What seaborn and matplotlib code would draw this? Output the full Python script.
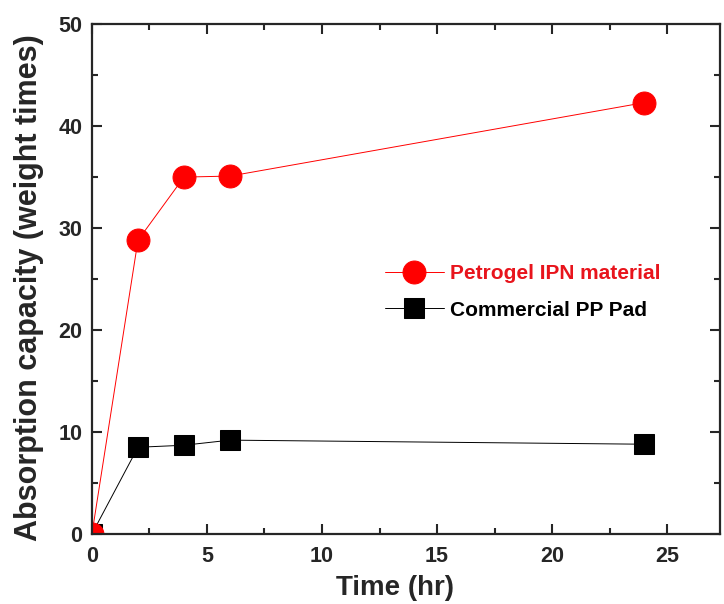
import matplotlib
matplotlib.use("Agg")
import matplotlib.pyplot as plt
import seaborn as sns
import pandas as pd
from matplotlib.ticker import MultipleLocator

time_hr = [0, 2, 4, 6, 24]
petrogel = [0, 28.8, 35.0, 35.1, 42.3]
pp_pad = [0, 8.5, 8.7, 9.2, 8.8]
labels = ["Petrogel IPN material", "Commercial PP Pad"]

sns.set_theme(style="ticks")
plt.rcParams['font.family'] = ['Liberation Sans', 'DejaVu Sans']
plt.rcParams['font.weight'] = 'bold'

fig = plt.figure(figsize=(7.24, 6.04), dpi=100)
ax = fig.add_axes([0.127, 0.116, 0.8675, 0.844])

df_red = pd.DataFrame({"t": time_hr, "v": petrogel})
df_blk = pd.DataFrame({"t": time_hr, "v": pp_pad})

sns.lineplot(data=df_blk, x="t", y="v", ax=ax, color="black", linewidth=0.7,
             marker="s", markersize=15, markeredgecolor="black", label=labels[1])
sns.lineplot(data=df_red, x="t", y="v", ax=ax, color="#ff0000", linewidth=0.7,
             marker="o", markersize=16.5, markeredgecolor="#ff0000", label=labels[0])

ax.set_xlim(0, 27.3)
ax.set_ylim(0, 50)
ax.xaxis.set_major_locator(MultipleLocator(5))
ax.xaxis.set_minor_locator(MultipleLocator(2.5))
ax.yaxis.set_major_locator(MultipleLocator(10))
ax.yaxis.set_minor_locator(MultipleLocator(5))
ax.tick_params(which="both", direction="in", top=True, right=True, width=1.5)
ax.tick_params(which="major", length=7, labelsize=15.5)
ax.tick_params(axis="x", which="major", pad=9)
ax.tick_params(axis="y", which="major", pad=7)
ax.tick_params(which="minor", length=4)
for s in ax.spines.values():
    s.set_linewidth(1.6)
    s.set_visible(True)
for lab in ax.get_xticklabels() + ax.get_yticklabels():
    lab.set_fontweight("bold")

ax.set_xlabel("Time (hr)", fontsize=20, fontweight="bold")
ax.set_ylabel("Absorption capacity (weight times)", fontsize=22, fontweight="bold")
ax.xaxis.set_label_coords(0.482, -0.081)
ax.yaxis.set_label_coords(-0.076, 0.484)

handles, lbls = ax.get_legend_handles_labels()
order = [1, 0]
leg = ax.legend([handles[i] for i in order], [lbls[i] for i in order],
                loc="center left", bbox_to_anchor=(0.467, 0.475), frameon=False,
                borderaxespad=0, borderpad=0,
                handlelength=2.8, handletextpad=0.3, labelspacing=0.85,
                prop={"weight": "bold", "size": 15})
leg.get_texts()[0].set_color("#e8141c")
leg.get_texts()[1].set_color("black")

fig.savefig("out.png", dpi=100)
